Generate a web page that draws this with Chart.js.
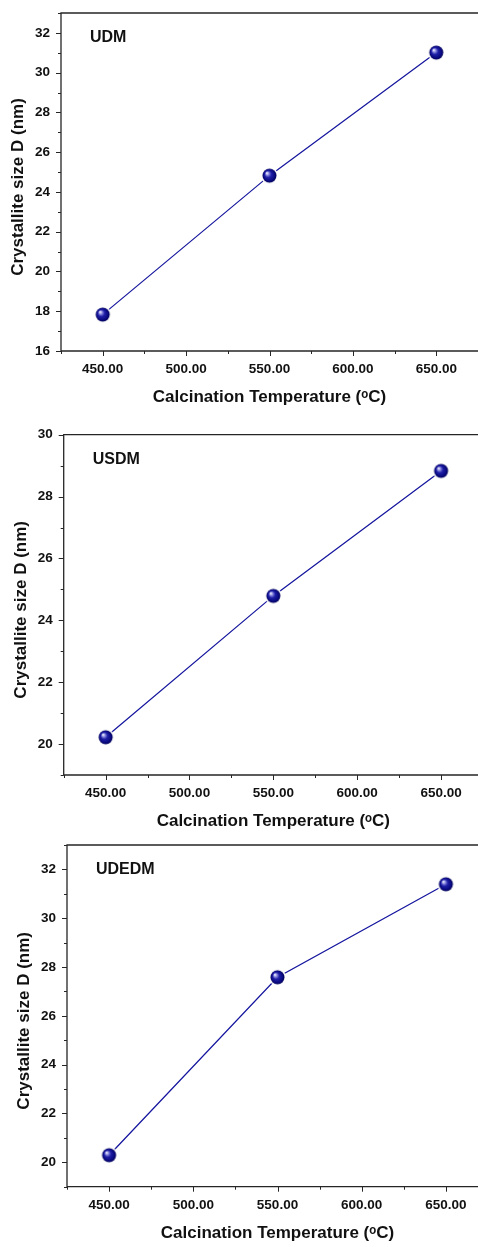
<!DOCTYPE html>
<html>
<head>
<meta charset="utf-8">
<title>Crystallite size vs calcination temperature</title>
<script src="https://cdn.jsdelivr.net/npm/chart.js@4.4.0/dist/chart.umd.min.js"></script>
<style>
  html, body { margin: 0; padding: 0; background: #fff; overflow: hidden; }
  #wrap { width: 478px; height: 1247px; position: relative; overflow: hidden; }
  canvas { position: absolute; left: 0; display: block; }
</style>
</head>
<body>
<div id="wrap">
  <canvas id="c1"></canvas>
  <canvas id="c2"></canvas>
  <canvas id="c3"></canvas>
</div>
<script>
// ---- data ----
const sampleNames = ['UDM', 'USDM', 'UDEDM'];
const temperatures = [450, 550, 650];            // calcination temperature, °C
const sizeUDM   = [17.83, 24.82, 31.01];          // crystallite size D, nm
const sizeUSDM  = [20.22, 24.79, 28.83];
const sizeUDEDM = [20.29, 27.58, 31.39];
const seriesValues = [sizeUDM, sizeUSDM, sizeUDEDM];
const yAxisMin = [16, 19, 19];
const yAxisMax = [33, 30, 33];
const xAxisMin = 425;
const xAxisMax = 675;
const yTitle = 'Crystallite size D (nm)';
const xTitle = 'Calcination Temperature (\u1D52C)';

// ---- layout of the three stacked panels (the frames run past the right edge) ----
const panels = [
  { id: 'c1', top: 0,   width: 478, height: 415, plotLeft: 61,   plotTop: 13,   plotBottom: 351 },
  { id: 'c2', top: 415, width: 483, height: 420, plotLeft: 63.7, plotTop: 19.7, plotBottom: 360 },
  { id: 'c3', top: 835, width: 488, height: 412, plotLeft: 67,   plotTop: 10,   plotBottom: 351.7 }
];

const FONT = "'Liberation Sans', Arial, Helvetica, sans-serif";
const AXIS_COLOR = '#262626';
const LINE_COLOR = '#16169e';
const TICK_SIZE = 13.5;
const TITLE_SIZE = 17;

// shaded sphere used as the point marker
function makeSphere(r) {
  const ring = 1.5;
  const s = Math.ceil((r + ring) * 2);
  const c = document.createElement('canvas');
  c.width = s; c.height = s;
  const g = c.getContext('2d');
  const m = s / 2;
  g.beginPath(); g.arc(m, m, r + ring, 0, Math.PI * 2);
  g.fillStyle = '#ffffff'; g.fill();
  const grad = g.createRadialGradient(m - r * 0.38, m - r * 0.38, r * 0.05, m, m, r);
  grad.addColorStop(0, '#f2f2ff');
  grad.addColorStop(0.2, '#8c8ce0');
  grad.addColorStop(0.45, '#2020a8');
  grad.addColorStop(0.8, '#0a0a82');
  grad.addColorStop(1, '#000055');
  g.beginPath(); g.arc(m, m, r, 0, Math.PI * 2);
  g.fillStyle = grad; g.fill();
  return c;
}
const sphere = makeSphere(7);

// frame (left, bottom, top), outward major/minor ticks, sample label, y title
const framePlugin = {
  id: 'framePlugin',
  afterDraw(chart, args, opts) {
    const { ctx, chartArea: a, scales: { x, y } } = chart;
    ctx.save();
    ctx.strokeStyle = AXIS_COLOR;
    ctx.lineWidth = 1.3;
    ctx.beginPath();
    ctx.moveTo(a.right, a.top);
    ctx.lineTo(a.left, a.top);
    ctx.lineTo(a.left, a.bottom);
    ctx.lineTo(a.right, a.bottom);
    ctx.stroke();

    ctx.lineWidth = 1;
    ctx.beginPath();
    y.ticks.forEach(t => {
      const py = Math.round(y.getPixelForValue(t.value)) + 0.5;
      const len = t.value % 2 === 0 ? 5 : 3;
      ctx.moveTo(a.left - len, py);
      ctx.lineTo(a.left, py);
    });
    x.ticks.forEach(t => {
      const px = Math.round(x.getPixelForValue(t.value)) + 0.5;
      const len = t.value % 50 === 0 ? 5 : 3;
      ctx.moveTo(px, a.bottom);
      ctx.lineTo(px, a.bottom + len);
    });
    ctx.stroke();

    // sample name inside the plot
    ctx.fillStyle = '#111';
    ctx.font = 'bold 16px ' + FONT;
    ctx.textAlign = 'left';
    ctx.textBaseline = 'middle';
    ctx.fillText(opts.label, a.left + 29, a.top + 25);

    // vertical axis title
    ctx.translate(a.left - 42.6, (a.top + a.bottom) / 2 + 5);
    ctx.rotate(-Math.PI / 2);
    ctx.font = 'bold ' + TITLE_SIZE + 'px ' + FONT;
    ctx.textAlign = 'center';
    ctx.fillText(yTitle, 0, 0);
    ctx.restore();
  }
};

panels.forEach((p, i) => {
  const cv = document.getElementById(p.id);
  cv.width = p.width;
  cv.height = p.height;
  cv.style.top = p.top + 'px';
  cv.style.width = p.width + 'px';
  cv.style.height = p.height + 'px';

  const points = temperatures.map((t, k) => ({ x: t, y: seriesValues[i][k] }));
  const titleCenter = p.plotBottom + 46.6;
  const titlePadBottom = p.height - titleCenter - TITLE_SIZE * 1.2 / 2;

  new Chart(cv, {
    type: 'scatter',
    data: {
      datasets: [{
        label: sampleNames[i],
        data: points,
        showLine: true,
        borderColor: LINE_COLOR,
        borderWidth: 1.25,
        pointStyle: sphere,
        pointRadius: 7,
        pointHoverRadius: 7
      }]
    },
    options: {
      responsive: false,
      animation: false,
      devicePixelRatio: 1,
      layout: { autoPadding: false, padding: { top: p.plotTop, left: 0, right: 0, bottom: 0 } },
      plugins: {
        legend: { display: false },
        tooltip: { enabled: false },
        framePlugin: { label: sampleNames[i] }
      },
      scales: {
        x: {
          type: 'linear',
          min: xAxisMin,
          max: xAxisMax,
          grid: { display: false, drawTicks: false },
          border: { display: false },
          ticks: {
            stepSize: 25,
            autoSkip: false,
            maxRotation: 0,
            padding: 10.2,
            color: '#111',
            font: { family: FONT, size: TICK_SIZE, weight: 'bold' },
            callback: v => (v % 50 === 0 ? v.toFixed(2) : '')
          },
          title: {
            display: true,
            text: xTitle,
            color: '#111',
            font: { family: FONT, size: TITLE_SIZE, weight: 'bold' },
            padding: { top: 0, bottom: titlePadBottom }
          },
          afterFit: s => {
            s.height = p.height - p.plotBottom;
            s.paddingLeft = 0;
            s.paddingRight = 0;
          }
        },
        y: {
          type: 'linear',
          min: yAxisMin[i],
          max: yAxisMax[i],
          grid: { display: false, drawTicks: false },
          border: { display: false },
          ticks: {
            stepSize: 1,
            autoSkip: false,
            padding: 11,
            color: '#111',
            font: { family: FONT, size: TICK_SIZE, weight: 'bold' },
            callback: v => (v % 2 === 0 ? String(v) : '')
          },
          afterFit: s => {
            s.width = p.plotLeft;
            s.paddingTop = 0;
            s.paddingBottom = 0;
          }
        }
      }
    },
    plugins: [framePlugin]
  });
});
</script>
</body>
</html>
